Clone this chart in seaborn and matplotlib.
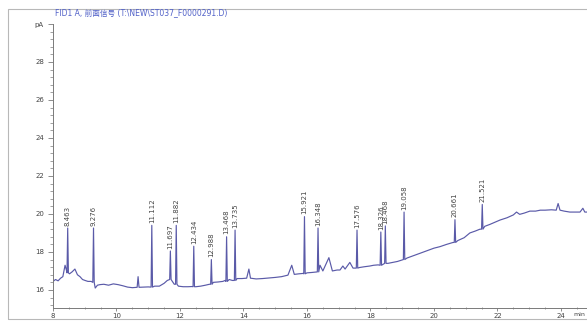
import matplotlib
matplotlib.use("Agg")
import matplotlib.pyplot as plt
from matplotlib.patches import Rectangle
from matplotlib.ticker import MultipleLocator
import pandas as pd
import seaborn as sns

# Labelled peaks: retention time (min), apex and foot signal (pA)
peak_rt = [8.463, 9.276, 11.112, 11.697, 11.882, 12.434, 12.988, 13.468, 13.735,
           15.921, 16.348, 17.576, 18.326, 18.468, 19.058, 20.661, 21.521]
peak_top = [19.26, 19.26, 19.40, 18.05, 19.40, 18.30, 17.60, 18.80, 19.15,
            19.86, 19.26, 19.15, 19.05, 19.37, 20.10, 19.70, 20.50]
peak_foot = [16.90, 16.40, 16.15, 16.55, 16.30, 16.17, 16.30, 16.45, 16.50,
             16.85, 16.95, 17.15, 17.30, 17.40, 17.60, 18.50, 19.20]
peak_labels = [f"{t:.3f}" for t in peak_rt]

# Baseline and small unlabelled bumps of the FID trace
base_t = [8.00, 8.08, 8.16, 8.24, 8.31, 8.38, 8.43,
          8.52, 8.60, 8.69, 8.77, 8.85, 8.93, 9.01, 9.10, 9.20,
          9.33, 9.40, 9.48, 9.60, 9.75, 9.90, 10.05, 10.20, 10.35, 10.50, 10.65, 10.68, 10.71,
          10.85, 11.00, 11.08,
          11.20, 11.35, 11.50, 11.60, 11.76, 11.82, 11.95, 12.10, 12.25, 12.38,
          12.50, 12.65, 12.80, 12.93, 13.05, 13.20, 13.35, 13.42,
          13.55, 13.65, 13.70, 13.80, 13.95, 14.10, 14.17, 14.22, 14.40, 14.60, 14.80,
          15.00, 15.20, 15.40, 15.52, 15.60, 15.75, 15.88,
          16.00, 16.15, 16.30, 16.41, 16.50, 16.69, 16.80, 16.95, 17.04, 17.13, 17.20,
          17.35, 17.45, 17.53,
          17.65, 17.80, 17.98, 18.10, 18.24,
          18.55, 18.70, 18.85, 19.00,
          19.15, 19.35, 19.56, 19.80, 20.00, 20.19, 20.40, 20.60,
          20.75, 20.95, 21.13, 21.30, 21.45,
          21.60, 21.76, 21.90, 22.08, 22.30, 22.50, 22.60, 22.70, 22.85, 23.02, 23.20,
          23.35, 23.50, 23.70, 23.85, 23.91, 23.97, 24.10, 24.28, 24.45, 24.60, 24.69,
          24.75, 24.85]
base_y = [16.45, 16.55, 16.48, 16.62, 16.70, 17.30, 17.00,
          16.85, 16.95, 17.10, 16.80, 16.70, 16.55, 16.50, 16.45, 16.45,
          16.10, 16.25, 16.28, 16.30, 16.25, 16.32, 16.28, 16.22, 16.15, 16.12, 16.14, 16.70, 16.14,
          16.15, 16.16, 16.15,
          16.20, 16.20, 16.35, 16.50, 16.45, 16.30, 16.20, 16.17, 16.17, 16.18,
          16.17, 16.20, 16.25, 16.30, 16.40, 16.42, 16.45, 16.50,
          16.55, 16.50, 16.50, 16.60, 16.60, 16.62, 17.10, 16.62, 16.58, 16.60, 16.63,
          16.66, 16.70, 16.78, 17.30, 16.82, 16.85, 16.87,
          16.90, 16.92, 16.95, 17.30, 17.00, 17.70, 17.00, 17.05, 17.05, 17.26, 17.10,
          17.45, 17.15, 17.15,
          17.18, 17.22, 17.26, 17.30, 17.32,
          17.40, 17.45, 17.50, 17.58,
          17.68, 17.80, 17.93, 18.08, 18.20, 18.28, 18.40, 18.50,
          18.60, 18.75, 19.00, 19.10, 19.20,
          19.35, 19.45, 19.55, 19.68, 19.80, 19.95, 20.10, 19.98, 20.05, 20.15, 20.15,
          20.20, 20.20, 20.22, 20.20, 20.55, 20.20, 20.15, 20.10, 20.10, 20.10, 20.30,
          20.10, 20.10]

title_text = "FID1 A, 前面信号 (T:\\NEW\\ST037_F0000291.D)"
y_ticks = [16, 18, 20, 22, 24, 26, 28, 30]
y_tick_labels = ["16", "18", "20", "22", "24", "26", "28", "pA"]
x_ticks = [8, 10, 12, 14, 16, 18, 20, 22, 24]

# Assemble the trace: baseline points plus a narrow spike for each labelled peak
half_width = 0.022
pts = list(zip(base_t, base_y))
for rt, top, foot in zip(peak_rt, peak_top, peak_foot):
    pts += [(rt - half_width, foot), (rt, top), (rt + half_width, foot)]
pts.sort()
trace = pd.DataFrame(pts, columns=["time", "signal"])

sns.set_theme(style="white")
plt.rcParams["font.family"] = ["DejaVu Sans", "Noto Sans CJK SC"]

W, H = 587, 322
fig = plt.figure(figsize=(W / 100, H / 100), dpi=100)
fig.patch.set_facecolor("white")

# Outer frame around the report area
fig.patches.append(Rectangle((8 / W, 1 - 319 / H), 1.2, (319 - 9) / H,
                             transform=fig.transFigure, fill=False,
                             edgecolor="#b8b8b8", linewidth=0.8))

ax = fig.add_axes([53 / W, 1 - 308 / H, (W - 53) / W, (308 - 24) / H])
ax.set_facecolor("white")

sns.lineplot(data=trace, x="time", y="signal", ax=ax, estimator=None, sort=False,
             color="#5a5aa8", linewidth=0.85)

for rt, top, lab in zip(peak_rt, peak_top, peak_labels):
    ax.text(rt, top + 0.12, lab, rotation=90, ha="center", va="bottom",
            fontsize=5, color="#444444")

ax.set_xlim(8, 24.82)
ax.set_ylim(15.05, 30)
ax.set_xticks(x_ticks)
ax.set_xticklabels([str(v) for v in x_ticks])
ax.xaxis.set_minor_locator(MultipleLocator(0.5))
ax.set_yticks(y_ticks)
ax.set_yticklabels(y_tick_labels)
ax.yaxis.set_minor_locator(MultipleLocator(0.4))
ax.set_xlabel("")
ax.set_ylabel("")

for side in ["top", "right"]:
    ax.spines[side].set_visible(False)
for side in ["left", "bottom"]:
    ax.spines[side].set_color("#7a7a7a")
    ax.spines[side].set_linewidth(0.7)

ax.tick_params(axis="both", which="major", labelsize=5, colors="#7a7a7a",
               labelcolor="#444444", width=0.6)
ax.tick_params(axis="y", which="major", direction="out", length=3.5, pad=3, left=True)
ax.tick_params(axis="y", which="minor", direction="out", length=2, width=0.5, left=True,
               colors="#7a7a7a")
ax.tick_params(axis="x", which="major", direction="out", length=2.5, pad=1.2, bottom=True)
ax.tick_params(axis="x", which="minor", direction="inout", length=1.5, width=0.5,
               bottom=True, colors="#7a7a7a")

fig.text(585 / W, 1 - 312 / H, "min", ha="right", va="top",
         fontsize=4.5, color="#444444")

fig.text(55 / W, 1 - 13 / H, title_text, fontsize=5.5, color="#5060c8",
         ha="left", va="center")

fig.savefig("out.png", dpi=100, facecolor="white")
